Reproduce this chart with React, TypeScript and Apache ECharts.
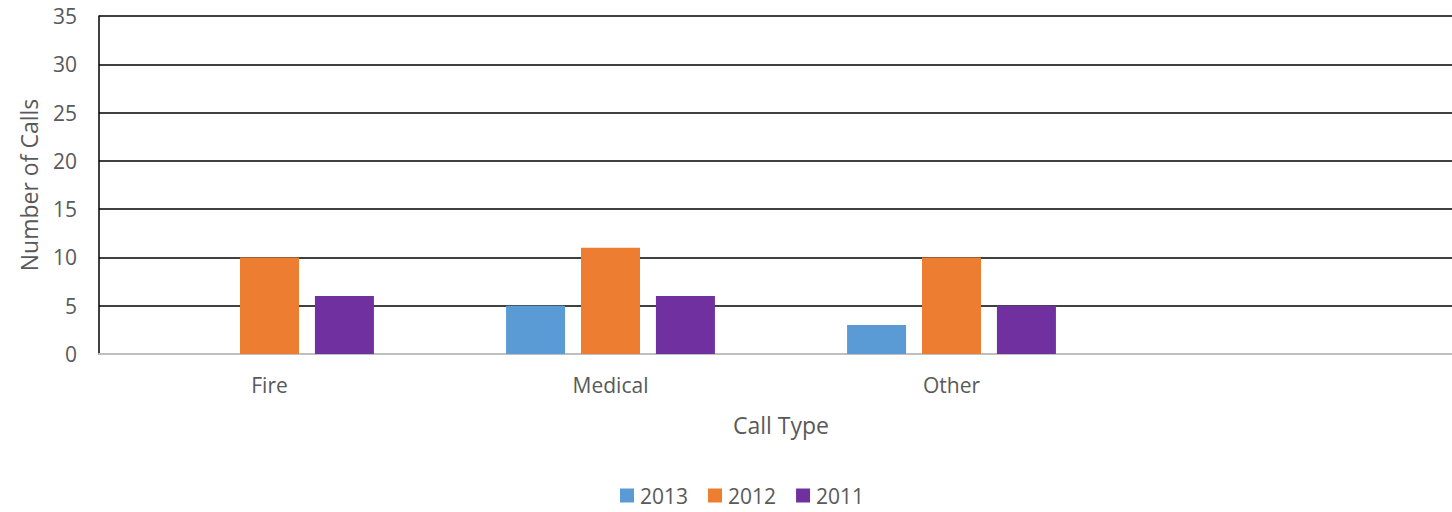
import React, { useEffect, useRef } from "react";
import * as echarts from "echarts";

const categories = ["Fire", "Medical", "Other", ""];
const seriesNames = ["2013", "2012", "2011"];
const values2013 = [0, 5, 3, null];
const values2012 = [10, 11, 10, null];
const values2011 = [6, 6, 5, null];
const colors = ["#5b9bd5", "#ed7d31", "#7030a0"];

const FONT = "'Open Sans', sans-serif";
const TXT = "#595959";

export default function App() {
  const ref = useRef<HTMLDivElement>(null);
  useEffect(() => {
    if (!ref.current) return;
    const chart = echarts.init(ref.current, undefined, { renderer: "svg" });
    const data = [values2013, values2012, values2011];
    chart.setOption({
      animation: false,
      textStyle: { fontFamily: FONT },
      grid: { left: 99, top: 16, right: -11, bottom: 158, containLabel: false, outerBoundsMode: "none" },
      legend: {
        data: seriesNames,
        left: 615,
        top: 480,
        itemWidth: 14,
        itemHeight: 14,
        itemGap: 20,
        icon: "rect",
        textStyle: { fontSize: 21, color: TXT, fontFamily: FONT, padding: [0, 0, 0, 1] },
      },
      xAxis: {
        type: "category",
        data: categories,
        name: "Call Type",
        nameLocation: "middle",
        nameGap: 59,
        nameTextStyle: { fontSize: 23, color: TXT, fontFamily: FONT },
        axisLine: { show: true, lineStyle: { color: "#bfbfbf", width: 2 } },
        axisTick: { show: false },
        axisLabel: { fontSize: 21, color: TXT, margin: 20, fontFamily: FONT },
        splitLine: { show: false },
      },
      yAxis: {
        type: "value",
        min: 0,
        max: 35,
        interval: 5,
        name: "Number of Calls",
        nameLocation: "middle",
        nameGap: 59,
        nameTextStyle: { fontSize: 23, color: TXT, fontFamily: FONT },
        axisLine: { show: true, lineStyle: { color: "#000", width: 1.5 } },
        axisTick: { show: false },
        axisLabel: { fontSize: 21, color: TXT, margin: 22, fontFamily: FONT },
        splitLine: { show: true, lineStyle: { color: "#000", width: 1.5 } },
      },
      series: seriesNames.map((name, i) => ({
        name,
        type: "bar",
        data: data[i],
        barWidth: 59,
        barGap: "27%",
        itemStyle: { color: colors[i] },
      })),
    });
    return () => chart.dispose();
  }, []);
  return (
    <div
      ref={ref}
      style={{ position: "fixed", left: 0, top: 0, width: 1452, height: 512, background: "#fff" }}
    />
  );
}
